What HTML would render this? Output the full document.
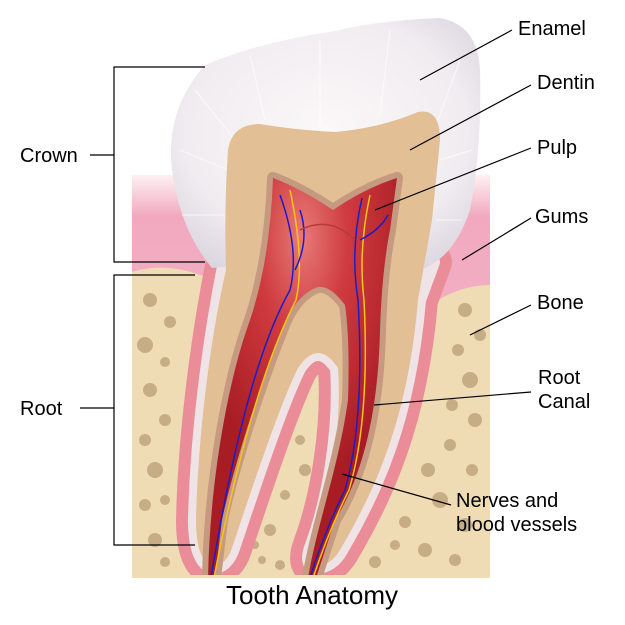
<!DOCTYPE html>
<html><head><meta charset="utf-8"><style>
html,body{margin:0;padding:0;background:#fff;}
svg{display:block}
text{font-family:"Liberation Sans",sans-serif;fill:#000}
</style></head><body>
<svg width="625" height="625" viewBox="0 0 625 625" xmlns="http://www.w3.org/2000/svg">
<defs>
<linearGradient id="gum" x1="0" y1="0" x2="0" y2="1">
<stop offset="0" stop-color="#fdf0f3"/><stop offset="0.25" stop-color="#f2a9bf"/><stop offset="1" stop-color="#f3b0c4"/>
</linearGradient>
<radialGradient id="en" cx="0.5" cy="0.45" r="0.65">
<stop offset="0" stop-color="#fbf8f9"/><stop offset="0.7" stop-color="#f0ecf0"/><stop offset="1" stop-color="#dcd6e0"/>
</radialGradient>
<radialGradient id="pulp" cx="0.5" cy="0.15" r="0.6">
<stop offset="0" stop-color="#e87a78"/><stop offset="0.4" stop-color="#cf3b3f"/><stop offset="1" stop-color="#a81c24"/>
</radialGradient>
<clipPath id="cl"><rect x="0" y="0" width="625" height="575"/></clipPath>
<path id="tp" d="M226 262 C212 330 198 430 196 520 Q196 560 212 566 Q226 566 232 548 C258 470 282 400 298 368 Q318 338 338 368 C342 430 330 500 312 548 Q306 566 318 566 Q332 564 340 550 C375 490 408 420 418 300 L432 262 Z"/>
<path id="pp" d="M273 178 Q300 188 333 210 Q365 188 397 178 L390 230 Q382 270 380 330 C378 420 360 480 335 520 L316 578 L308 578 C318 520 338 470 348 400 Q350 340 345 305 Q330 285 318 287 Q295 295 282 330 C262 380 235 460 222 520 L215 578 L208 578 C210 480 228 380 250 320 Q270 260 273 178 Z"/>
</defs>
<!-- gums -->
<path d="M132 175 L490 175 L490 340 L132 340 Z" fill="url(#gum)"/>
<!-- bone -->
<path d="M132 272 Q165 262 200 275 L300 300 L430 305 Q460 285 490 285 L490 578 L132 578 Z" fill="#efdcb4"/>
<g fill="#c7ad86">
<circle cx="150" cy="300" r="7"/><circle cx="170" cy="322" r="6"/><circle cx="145" cy="345" r="8"/><circle cx="165" cy="362" r="5"/>
<circle cx="150" cy="390" r="7"/><circle cx="165" cy="420" r="6"/><circle cx="145" cy="440" r="6"/><circle cx="155" cy="470" r="8"/>
<circle cx="145" cy="505" r="6"/><circle cx="165" cy="500" r="5"/><circle cx="155" cy="540" r="7"/><circle cx="165" cy="562" r="5"/>
<circle cx="465" cy="310" r="7"/><circle cx="480" cy="335" r="6"/><circle cx="458" cy="350" r="6"/><circle cx="470" cy="380" r="8"/>
<circle cx="452" cy="405" r="6"/><circle cx="475" cy="420" r="7"/><circle cx="450" cy="445" r="6"/><circle cx="428" cy="470" r="7"/>
<circle cx="472" cy="470" r="6"/><circle cx="440" cy="500" r="8"/><circle cx="405" cy="522" r="6"/><circle cx="465" cy="525" r="7"/>
<circle cx="425" cy="550" r="7"/><circle cx="375" cy="562" r="6"/><circle cx="455" cy="560" r="6"/><circle cx="395" cy="545" r="5"/>
<circle cx="300" cy="440" r="5"/><circle cx="305" cy="470" r="6"/><circle cx="285" cy="495" r="5"/><circle cx="270" cy="530" r="6"/>
<circle cx="262" cy="560" r="4"/><circle cx="280" cy="565" r="5"/><circle cx="255" cy="545" r="4"/>
</g>
<g clip-path="url(#cl)">
<use href="#tp" fill="#eb8d99" stroke="#eb8d99" stroke-width="40" stroke-linejoin="round"/>
<use href="#tp" fill="#efe3e6" stroke="#efe3e6" stroke-width="16" stroke-linejoin="round"/>
</g>
<!-- enamel crown -->
<path d="M212 268 Q180 230 172 170 Q165 110 205 65 Q260 42 330 32 Q380 20 440 18 Q478 25 480 70 Q482 150 470 210 Q455 255 425 268 Q330 255 212 268 Z" fill="url(#en)"/>
<g stroke="#ffffff" stroke-width="1.2" opacity="0.6" fill="none">
<path d="M195 90 L235 140"/><path d="M180 150 L228 170"/><path d="M182 215 L226 215"/><path d="M250 55 L265 120"/><path d="M320 40 L320 125"/><path d="M390 30 L380 115"/><path d="M460 60 L438 120"/><path d="M472 150 L440 160"/><path d="M462 220 L436 220"/>
</g>
<g clip-path="url(#cl)">
<path d="M226 270 C212 330 198 430 196 520 Q196 560 212 566 Q226 566 232 548 C258 470 282 400 298 368 Q318 338 338 368 C342 430 330 500 312 548 Q306 566 318 566 Q332 564 340 550 C375 490 408 420 418 300 L432 220 L440 140 Q440 108 418 112 Q380 128 335 132 Q295 130 260 124 Q232 124 228 150 Q224 210 226 270 Z" fill="#e2bf95"/>
<use href="#pp" fill="#c59a80" stroke="#c59a80" stroke-width="12" stroke-linejoin="round"/>
<use href="#pp" fill="url(#pulp)"/>
<g fill="none" stroke-width="1.5">
<path d="M280 195 Q300 250 290 290 Q245 370 211 578" stroke="#1c1cc8"/>
<path d="M290 190 Q305 260 296 300 Q250 390 214 578" stroke="#f5c518"/>
<path d="M300 210 Q310 240 295 270" stroke="#1c1cc8"/>
<path d="M362 198 Q350 250 358 300 Q365 420 345 490 Q325 530 310 578" stroke="#1c1cc8"/>
<path d="M370 195 Q358 250 364 300 Q370 420 349 490 Q329 530 313 578" stroke="#f5c518"/>
<path d="M360 240 Q380 230 388 215" stroke="#1c1cc8"/>
<path d="M300 230 Q330 215 355 240" stroke="#b73a3a"/>
</g>
</g>
<g stroke="#000" stroke-width="1.2" fill="none">
<path d="M205 67 L114 67 L114 262 L205 262"/>
<path d="M90 155 L114 155"/>
<path d="M195 275 L114 275 L114 545 L195 545"/>
<path d="M80 408 L114 408"/>
<path d="M512 30 L420 80"/>
<path d="M531 85 L410 150"/>
<path d="M531 148 L375 210"/>
<path d="M531 218 L462 260"/>
<path d="M531 305 L470 335"/>
<path d="M531 392 L374 405"/>
<path d="M451 505 L342 474"/>
</g>
<g font-size="20">
<text x="518" y="35">Enamel</text>
<text x="537" y="89">Dentin</text>
<text x="537" y="154">Pulp</text>
<text x="535" y="223">Gums</text>
<text x="537" y="309">Bone</text>
<text x="538" y="384">Root</text>
<text x="538" y="408">Canal</text>
<text x="456" y="507">Nerves and</text>
<text x="456" y="531">blood vessels</text>
<text x="20" y="162">Crown</text>
<text x="20" y="415">Root</text>
</g>
<text x="312" y="604" font-size="26" text-anchor="middle">Tooth Anatomy</text>
</svg>
</body></html>
